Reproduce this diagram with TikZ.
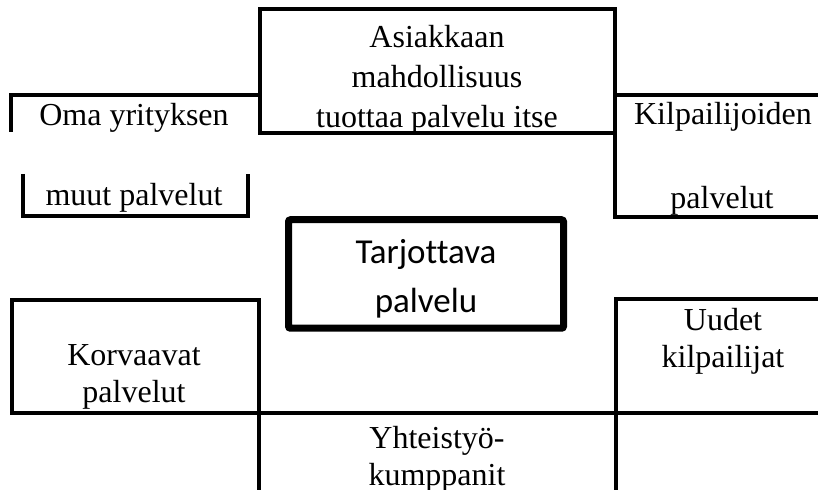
\documentclass[tikz,border=0pt]{standalone}
\usepackage{fontspec}
\setmainfont{Liberation Serif}
\newfontfamily\calibri[Ligatures=NoCommon]{Carlito}
\usetikzlibrary{positioning}
\tikzstyle{border} = [draw,line width=1.6pt]
\tikzstyle{core} = [draw,line width=3.5pt,rounded corners=1pt,inner sep=0pt]
\tikzstyle{boxtext} = [align=center,inner sep=0pt,font=\fontsize{16}{18.5}\selectfont]
\tikzstyle{toptext} = [align=center,inner sep=0pt,font=\fontsize{16}{20}\selectfont]

\begin{document}
\begin{tikzpicture}[x=0.5pt,y=-0.5pt]
  \useasboundingbox (0,0) rectangle (818,490);

  % upper half
  \draw[border] (260,9) rectangle (615,133);
  \draw[border] (11,132) -- (11,95) -- (260,95);
  \draw[border] (23,174) -- (23,216) -- (248,216) -- (248,174);
  \draw[border] (615,95) -- (818,95);
  \draw[border] (615,133) -- (615,217) -- (818,217);

  % lower half
  \draw[border] (12,300) rectangle (259,413);
  \draw[border] (818,299) -- (616,299) -- (616,490);
  \draw[border] (12,413) -- (818,413);
  \draw[border] (259,413) -- (259,490);

  \node[toptext] (self) at (437,80) {Asiakkaan\\mahdollisuus\\tuottaa palvelu itse};

  \foreach \x/\y/\name/\label in {134/118/own/{Oma yrityksen}, 134/198/ownrest/{muut palvelut},
      723/117/rival/Kilpailijoiden, 722/201/rivalrest/palvelut,
      134/377/substitute/{Korvaavat\\palvelut}, 723/341/newrival/{Uudet\\kilpailijat},
      437/459/partner/{Yhteistyö-\\kumppanit}}
    \node[boxtext] (\name) at (\x,\y) {\label};

  \node[core,minimum width=137.5pt,minimum height=54.25pt,align=center,
        font=\calibri\fontsize{17.5}{24.5}\selectfont] (offer) at (426,274)
        {\rule{0pt}{16.5pt}Tarjottava\\palvelu};

\end{tikzpicture}
\end{document}
